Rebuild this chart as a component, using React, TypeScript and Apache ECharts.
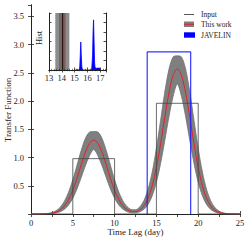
import React, { useEffect, useRef } from 'react';
import * as echarts from 'echarts';

// ---- main panel data ----
const lagDays = [
  0, 0.5, 1, 1.5, 2, 2.5, 3, 3.5, 4, 4.5, 5, 5.5, 6, 6.5, 7, 7.5, 8, 8.5, 9, 9.5,
  10, 10.5, 11, 11.5, 12, 12.5, 13, 13.5, 14, 14.5, 15, 15.5, 16, 16.5, 17, 17.5,
  18, 18.5, 19, 19.5, 20, 20.5, 21, 21.5, 22, 22.5, 23, 23.5, 24, 24.5, 25,
];
const thisWorkMedian = [
  0.0, 0.0, 0.001, 0.002, 0.005, 0.014, 0.033, 0.071, 0.141, 0.255, 0.42, 0.633,
  0.87, 1.092, 1.252, 1.31, 1.252, 1.092, 0.87, 0.633, 0.42, 0.255, 0.142, 0.075,
  0.044, 0.041, 0.07, 0.142, 0.278, 0.5, 0.825, 1.242, 1.707, 2.143, 2.456, 2.57,
  2.456, 2.143, 1.707, 1.242, 0.825, 0.5, 0.277, 0.14, 0.065, 0.027, 0.011, 0.004,
  0.001, 0.0, 0.0,
];
const thisWorkUpper = [
  0.0, 0.0, 0.001, 0.004, 0.011, 0.026, 0.059, 0.121, 0.227, 0.388, 0.606, 0.863,
  1.124, 1.336, 1.45, 1.46, 1.45, 1.336, 1.124, 0.863, 0.606, 0.389, 0.23, 0.129,
  0.08, 0.076, 0.124, 0.236, 0.436, 0.744, 1.161, 1.656, 2.155, 2.561, 2.78, 2.8,
  2.78, 2.561, 2.155, 1.656, 1.161, 0.744, 0.435, 0.232, 0.113, 0.05, 0.021, 0.008,
  0.003, 0.001, 0.0,
];
const thisWorkLower = [
  0.0, 0.0, 0.0, 0.001, 0.003, 0.007, 0.018, 0.04, 0.084, 0.16, 0.279, 0.443,
  0.644, 0.853, 1.033, 1.141, 1.033, 0.853, 0.644, 0.443, 0.279, 0.16, 0.085, 0.042,
  0.023, 0.021, 0.039, 0.082, 0.169, 0.323, 0.563, 0.894, 1.298, 1.721, 2.083, 2.302,
  2.083, 1.721, 1.298, 0.894, 0.563, 0.323, 0.169, 0.081, 0.036, 0.014, 0.005, 0.002,
  0.001, 0.0, 0.0,
];
const inputLag = [0, 5, 5, 10, 10, 15, 15, 20, 20, 25];
const inputValue = [0, 0, 0.98, 0.98, 0, 0, 1.96, 1.96, 0, 0];
const javelinLag = [13.9, 13.9, 19.1, 19.1];
const javelinValue = [0, 2.87, 2.87, 0];
const xTickLabels = [0, 5, 10, 15, 20, 25];
const yTickLabels = [0.5, 1.0, 1.5, 2.0, 2.5, 3.0, 3.5];

// ---- inset data ----
const histLag = [
  15.0, 15.1, 15.15, 15.2, 15.35, 15.4, 15.44, 15.48, 15.52, 15.56, 15.6, 15.65,
  16.3, 16.34, 16.4, 16.44, 16.48, 16.52, 16.56, 16.6, 16.66, 16.72, 16.8, 16.9,
  16.98, 17.02,
];
const histCount = [
  0, 0, 12, 0, 0, 60, 300, 590, 320, 80, 10, 0,
  0, 40, 300, 800, 1055, 600, 150, 45, 40, 35, 40, 40,
  35, 0,
];
const lagBandOuter = [13.49, 14.59];
const lagBandInner = [13.78, 14.3];
const lagRed = 14.12;
const lagBlack = 14.02;
const insetTickLabels = [13, 14, 15, 16, 17];

const FONT = 'Liberation Serif';
const AXIS_COLOR = '#222';

export default function App() {
  const ref = useRef<HTMLDivElement>(null);

  useEffect(() => {
    if (!ref.current) return;
    const chart = echarts.init(ref.current, undefined, { renderer: 'svg' });

    const pair = (xs: number[], ys: number[]) => xs.map((x, i) => [x, ys[i]]);

    const axisLine = { show: true, lineStyle: { color: AXIS_COLOR, width: 1 } };
    const tickIn = (len: number) => ({
      show: true,
      inside: true,
      length: len,
      lineStyle: { color: AXIS_COLOR, width: 0.8 },
    });

    const option: any = {
      animation: false,
      backgroundColor: '#ffffff',
      grid: [
        { left: 31, right: 10, top: 5, bottom: 29, containLabel: false },
        {
          left: 49,
          top: 13,
          width: 57,
          height: 57,
          show: true,
          backgroundColor: '#ffffff',
          borderWidth: 0,
          z: 5,
        },
      ],
      xAxis: [
        {
          type: 'value',
          gridIndex: 0,
          min: 0,
          max: 25,
          interval: 2.5,
          position: 'bottom',
          axisLine,
          axisTick: tickIn(3),
          splitLine: { show: false },
          axisLabel: {
            fontFamily: FONT,
            fontSize: 8.5,
            color: '#222',
            margin: 4,
            formatter: (v: number) => (xTickLabels.includes(v) ? String(v) : ''),
          },
        },
        {
          type: 'value',
          gridIndex: 0,
          min: 0,
          max: 25,
          interval: 2.5,
          position: 'top',
          axisLine,
          axisTick: tickIn(3),
          splitLine: { show: false },
          axisLabel: { show: false },
        },
        {
          type: 'value',
          gridIndex: 1,
          min: 13,
          max: 17.45,
          interval: 1,
          position: 'bottom',
          axisLine,
          axisTick: tickIn(2.5),
          minorTick: { show: true, splitNumber: 5, length: 1.2, lineStyle: { color: AXIS_COLOR, width: 0.6 } },
          splitLine: { show: false },
          axisLabel: {
            fontFamily: FONT,
            fontSize: 8.5,
            color: '#222',
            margin: 3,
            showMaxLabel: false,
            formatter: (v: number) => (insetTickLabels.includes(v) ? String(v) : ''),
          },
          z: 10,
        },
        {
          type: 'value',
          gridIndex: 1,
          min: 13,
          max: 17.45,
          interval: 1,
          position: 'top',
          axisLine,
          axisTick: tickIn(2.5),
          minorTick: { show: true, splitNumber: 5, length: 1.2, lineStyle: { color: AXIS_COLOR, width: 0.6 } },
          splitLine: { show: false },
          axisLabel: { show: false },
          z: 10,
        },
      ],
      yAxis: [
        {
          type: 'value',
          gridIndex: 0,
          min: 0,
          max: 3.7,
          interval: 0.5,
          position: 'left',
          axisLine,
          axisTick: tickIn(3),
          splitLine: { show: false },
          axisLabel: {
            fontFamily: FONT,
            fontSize: 8.5,
            color: '#222',
            margin: 7,
            showMaxLabel: false,
            formatter: (v: number) => (yTickLabels.includes(v) ? v.toFixed(1) : ''),
          },
        },
        {
          type: 'value',
          gridIndex: 0,
          min: 0,
          max: 3.7,
          interval: 0.5,
          position: 'right',
          axisLine,
          axisTick: tickIn(3),
          splitLine: { show: false },
          axisLabel: { show: false },
        },
        {
          type: 'value',
          gridIndex: 1,
          min: 0,
          max: 1200,
          interval: 200,
          position: 'left',
          axisLine,
          axisTick: tickIn(2.5),
          splitLine: { show: false },
          axisLabel: { show: false },
          z: 10,
        },
        {
          type: 'value',
          gridIndex: 1,
          min: 0,
          max: 1200,
          interval: 200,
          position: 'right',
          axisLine,
          axisTick: tickIn(2.5),
          splitLine: { show: false },
          axisLabel: { show: false },
          z: 10,
        },
      ],
      series: [
        {
          name: 'This work upper',
          type: 'line',
          xAxisIndex: 0,
          yAxisIndex: 0,
          data: pair(lagDays, thisWorkUpper),
          symbol: 'none',
          smooth: 0.3,
          lineStyle: { color: '#707070', width: 0.8 },
          areaStyle: { color: '#7f7f7f', opacity: 1, origin: 'start' },
          silent: true,
          z: 1,
        },
        {
          name: 'This work lower',
          type: 'line',
          xAxisIndex: 0,
          yAxisIndex: 0,
          data: pair(lagDays, thisWorkLower),
          symbol: 'none',
          smooth: 0.3,
          lineStyle: { color: '#707070', width: 0.8 },
          areaStyle: { color: '#ffffff', opacity: 1, origin: 'start' },
          silent: true,
          z: 2,
        },
        {
          name: 'This work',
          type: 'line',
          xAxisIndex: 0,
          yAxisIndex: 0,
          data: pair(lagDays, thisWorkMedian),
          symbol: 'none',
          smooth: 0.3,
          lineStyle: { color: '#e02424', width: 1 },
          silent: true,
          z: 3,
        },
        {
          name: 'Input',
          type: 'line',
          xAxisIndex: 0,
          yAxisIndex: 0,
          data: pair(inputLag, inputValue),
          symbol: 'none',
          lineStyle: { color: 'rgba(70,70,70,0.8)', width: 1 },
          silent: true,
          z: 4,
        },
        {
          name: 'JAVELIN',
          type: 'line',
          xAxisIndex: 0,
          yAxisIndex: 0,
          data: pair(javelinLag, javelinValue),
          symbol: 'none',
          lineStyle: { color: 'rgba(30,30,255,0.9)', width: 1.2 },
          silent: true,
          z: 4,
        },
        {
          name: 'Hist',
          type: 'line',
          xAxisIndex: 2,
          yAxisIndex: 2,
          data: pair(histLag, histCount),
          symbol: 'none',
          lineStyle: { color: '#0000ff', width: 0.8 },
          areaStyle: { color: '#0000ff', opacity: 1 },
          silent: true,
          z: 8,
          markArea: {
            silent: true,
            z: 6,
            label: { show: false },
            data: [
              [
                { xAxis: lagBandOuter[0], itemStyle: { color: '#8c8c8c' } },
                { xAxis: lagBandOuter[1] },
              ],
              [
                { xAxis: lagBandInner[0], itemStyle: { color: '#6a6a6a' } },
                { xAxis: lagBandInner[1] },
              ],
            ],
          },
          markLine: {
            silent: true,
            z: 7,
            symbol: 'none',
            label: { show: false },
            data: [
              { xAxis: lagBlack, lineStyle: { color: '#111', width: 1, type: 'solid' } },
              { xAxis: lagRed, lineStyle: { color: '#e02020', width: 1.3, type: 'solid' } },
            ],
          },
        },
      ],
      graphic: [
        {
          type: 'text',
          style: {
            text: 'Time Lag (day)',
            x: 135.5,
            y: 231.5,
            align: 'center',
            verticalAlign: 'middle',
            fontFamily: FONT,
            fontSize: 9,
            fill: '#222',
          },
          silent: true,
        },
        {
          type: 'text',
          x: 7.5,
          y: 110,
          rotation: Math.PI / 2,
          style: {
            text: 'Transfer Function',
            x: 0,
            y: 0,
            align: 'center',
            verticalAlign: 'middle',
            fontFamily: FONT,
            fontSize: 9,
            fill: '#222',
          },
          silent: true,
        },
        {
          type: 'text',
          x: 38.5,
          y: 38,
          rotation: Math.PI / 2,
          z: 20,
          style: {
            text: 'Hist',
            x: 0,
            y: 0,
            align: 'center',
            verticalAlign: 'middle',
            fontFamily: FONT,
            fontSize: 8.5,
            fill: '#222',
          },
          silent: true,
        },
        // legend
        {
          type: 'line',
          shape: { x1: 184, y1: 14.5, x2: 194, y2: 14.5 },
          style: { stroke: '#555', lineWidth: 1 },
          silent: true,
          z: 20,
        },
        {
          type: 'text',
          style: {
            text: 'Input',
            x: 201,
            y: 14.5,
            verticalAlign: 'middle',
            fontFamily: FONT,
            fontSize: 7.5,
            fill: '#222',
          },
          silent: true,
          z: 20,
        },
        {
          type: 'rect',
          shape: { x: 184, y: 21.5, width: 10, height: 5.5 },
          style: { fill: '#7f7f7f' },
          silent: true,
          z: 20,
        },
        {
          type: 'line',
          shape: { x1: 184, y1: 24.25, x2: 194, y2: 24.25 },
          style: { stroke: '#e02424', lineWidth: 1 },
          silent: true,
          z: 21,
        },
        {
          type: 'text',
          style: {
            text: 'This work',
            x: 201,
            y: 24.5,
            verticalAlign: 'middle',
            fontFamily: FONT,
            fontSize: 7.5,
            fill: '#222',
          },
          silent: true,
          z: 20,
        },
        {
          type: 'rect',
          shape: { x: 184, y: 32.3, width: 11, height: 5.4 },
          style: { fill: '#0000ff' },
          silent: true,
          z: 20,
        },
        {
          type: 'text',
          style: {
            text: 'JAVELIN',
            x: 201,
            y: 35,
            verticalAlign: 'middle',
            fontFamily: FONT,
            fontSize: 7.5,
            fill: '#222',
          },
          silent: true,
          z: 20,
        },
      ],
    };

    chart.setOption(option);
    return () => {
      chart.dispose();
    };
  }, []);

  return (
    <div
      ref={ref}
      style={{ position: 'fixed', left: 0, top: 0, width: 250, height: 243, background: '#fff' }}
    />
  );
}
